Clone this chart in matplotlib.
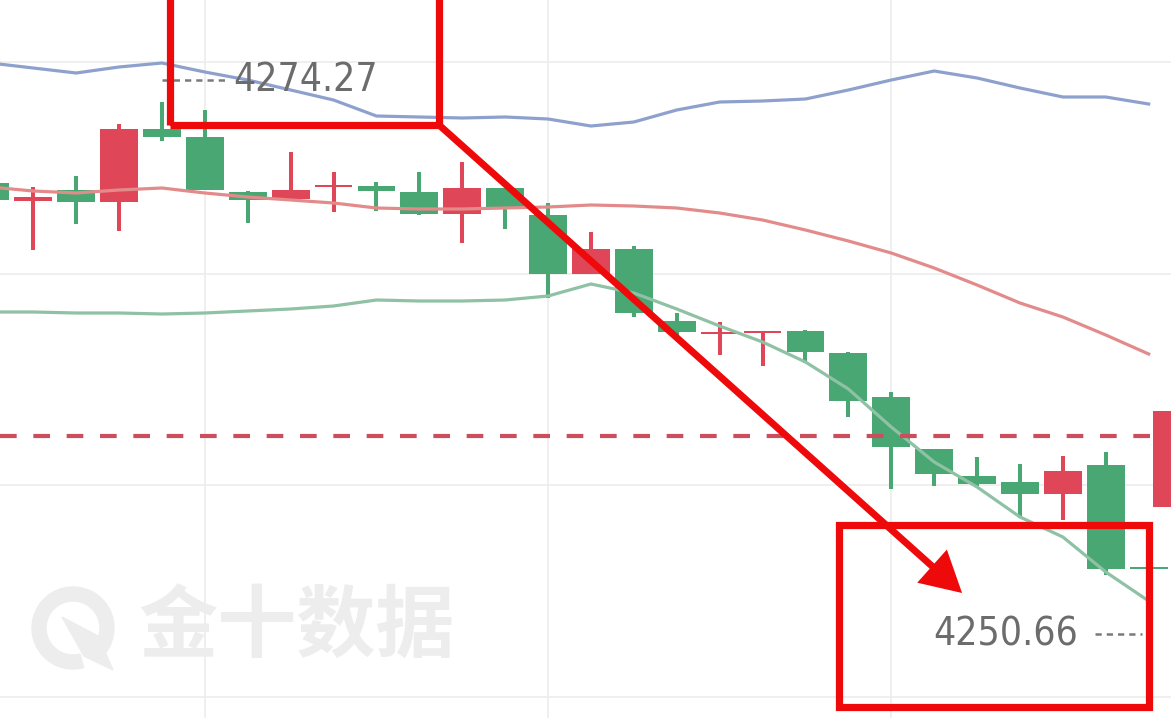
import matplotlib
matplotlib.use('Agg')
import matplotlib.pyplot as plt
from matplotlib.patches import Rectangle, FancyArrowPatch, Wedge, Polygon
from matplotlib.transforms import IdentityTransform
from matplotlib import font_manager

# ---------------- data ----------------
candle_x = list(range(28)) + [27.55]
opens = [4270.22, 4269.32, 4269.87, 4269.27, 4272.92, 4272.52, 4269.77, 4269.42, 4270.02, 4270.07,
         4269.77, 4268.67, 4269.97, 4268.62, 4265.67, 4266.92, 4263.32, 4262.65, 4262.72, 4262.82,
         4261.72, 4259.52, 4256.92, 4255.57, 4255.27, 4254.67, 4256.12, 4250.95, 4254.02]
highs = [4270.32, 4270.02, 4270.57, 4273.17, 4274.27, 4273.87, 4269.82, 4271.77, 4270.77, 4270.27,
         4270.77, 4271.27, 4269.97, 4269.22, 4267.77, 4267.07, 4263.72, 4263.27, 4262.82, 4262.87,
         4261.77, 4259.77, 4256.92, 4256.52, 4256.17, 4256.57, 4256.77, 4250.95, 4258.82]
lows = [4269.27, 4266.87, 4268.17, 4267.82, 4272.32, 4269.87, 4268.22, 4269.42, 4268.77, 4268.82,
        4268.62, 4267.22, 4267.92, 4264.47, 4265.67, 4263.52, 4262.32, 4261.62, 4261.07, 4261.22,
        4258.52, 4254.92, 4255.07, 4255.07, 4253.47, 4253.37, 4250.62, 4250.92, 4254.02]
closes = [4269.37, 4269.52, 4269.27, 4272.92, 4272.52, 4269.87, 4269.37, 4269.87, 4270.12, 4269.82,
          4268.67, 4269.97, 4268.97, 4265.67, 4266.92, 4263.72, 4262.77, 4262.67, 4262.82, 4261.77,
          4259.32, 4257.02, 4255.67, 4255.17, 4254.67, 4255.82, 4250.92, 4250.92, 4258.82]

band_x = list(range(28))
upper_band = [4276.22, 4275.97, 4275.72, 4276.02, 4276.22, 4275.77, 4275.37, 4274.87, 4274.37, 4273.57,
              4273.52, 4273.47, 4273.52, 4273.42, 4273.07, 4273.27, 4273.87, 4274.27, 4274.32, 4274.42,
              4274.87, 4275.37, 4275.82, 4275.47, 4274.97, 4274.52, 4274.52, 4274.17]
middle_band = [4270.02, 4269.82, 4269.72, 4269.87, 4269.97, 4269.72, 4269.52, 4269.37, 4269.22, 4268.97,
               4268.92, 4268.92, 4268.97, 4269.02, 4269.12, 4269.07, 4268.97, 4268.72, 4268.37, 4267.87,
               4267.32, 4266.72, 4265.97, 4265.12, 4264.22, 4263.52, 4262.62, 4261.67]
lower_band = [4263.77, 4263.77, 4263.72, 4263.72, 4263.67, 4263.72, 4263.82, 4263.92, 4264.07, 4264.37,
              4264.32, 4264.32, 4264.37, 4264.57, 4265.17, 4264.72, 4263.92, 4263.07, 4262.27, 4261.27,
              4259.92, 4258.02, 4256.27, 4255.02, 4253.52, 4252.52, 4250.77, 4249.32]

current_price = 4257.57
high_label = "4274.27"
low_label = "4250.66"
watermark = "金十数据"
grid_prices = [4276.27, 4265.67, 4255.12, 4244.52]
grid_x = [5, 13, 21]

# ---------------- style ----------------
RED = '#df4759'
GREEN = '#48a772'
BOX_RED = '#ee0a0a'
GRID = '#ececec'

fig = plt.figure(figsize=(11.71, 7.18), dpi=100)
ax = fig.add_axes([0, 0, 1, 1])
ax.set_xlim(0.226, 27.52)
ax.set_ylim(4243.47, 4279.37)
for s in ax.spines.values():
    s.set_visible(False)
ax.set_xticks(grid_x)
ax.set_yticks(grid_prices)
ax.tick_params(length=0, labelleft=False, labelbottom=False)
ax.grid(True, color=GRID, lw=1.2, zorder=0)
ax.set_axisbelow(True)

# watermark (behind)
wm_col = '#ededed'
fig.text(138 / 1171, 1 - 628 / 718, watermark, fontsize=57, fontweight='bold',
         color=wm_col, va='center', ha='left', family=['Noto Sans CJK SC', 'DejaVu Sans'], zorder=0.5)
ring = Wedge((73, 718 - 628), 41, -40, 285, width=14, transform=IdentityTransform(),
             color=wm_col, zorder=0.5)
fig.add_artist(ring)
tear = Polygon([(62, 718 - 617), (98, 718 - 636), (113, 718 - 670), (84, 718 - 656)],
               closed=True, transform=IdentityTransform(), color=wm_col, zorder=0.5)
fig.add_artist(tear)

# candles
n_main = 28
for i in range(len(candle_x)):
    o, h, l, c = opens[i], highs[i], lows[i], closes[i]
    col = RED if c >= o else GREEN
    z = 6 if i == n_main else 2
    ax.vlines(candle_x[i], l, h, color=col, lw=2.9, zorder=z)
    bot = min(o, c)
    ht = max(abs(c - o), 0.12)
    ax.bar(candle_x[i], ht, bottom=bot, width=0.88, color=col, zorder=z, linewidth=0)

# bands
ax.plot(band_x, upper_band, color='#8ea1cd', lw=2.3, zorder=3, solid_joinstyle='round')
ax.plot(band_x, middle_band, color='#e38b8b', lw=2.3, zorder=3, solid_joinstyle='round')
ax.plot(band_x, lower_band, color='#8fc1a4', lw=2.3, zorder=3, solid_joinstyle='round')

# current price dashed line
ax.axhline(current_price, color='#cc4d5c', lw=3, ls=(0, (4, 4)), zorder=4)

# price labels: pick a narrow font if one is installed
fonts = font_manager.fontManager.ttflist
names = {f.name for f in fonts}
lab_kw = dict(fontsize=27, family=['Roboto', 'DejaVu Sans'], fontweight='medium')
if 'Liberation Sans Narrow' in names:
    lab_kw = dict(fontsize=31, family=['Liberation Sans Narrow', 'DejaVu Sans'])
elif any(f.name == 'DejaVu Sans' and f.stretch == 'condensed' for f in fonts):
    lab_kw = dict(fontsize=28, family=['DejaVu Sans'], fontstretch='condensed')

ax.plot([4.0, 5.54], [4275.37, 4275.37], color='#7a7a7a', lw=1.8, ls=(0, (2.5, 2)), zorder=5)
ax.text(5.66, 4275.37, high_label, color='#6c6c6c', va='center', ha='left', zorder=5, **lab_kw)
ax.plot([25.75, 26.85], [4247.67, 4247.67], color='#7a7a7a', lw=1.8, ls=(0, (2.5, 2)), zorder=5)
ax.text(25.35, 4247.67, low_label, color='#6c6c6c', va='center', ha='right', zorder=5, **lab_kw)

# annotation boxes and arrow
ax.add_patch(Rectangle((4.19, 4273.12), 10.46 - 4.19, 10, fill=False, ec=BOX_RED, lw=5.2,
                       zorder=8, joinstyle='miter'))
ax.add_patch(Rectangle((19.78, 4244.02), 27.01 - 19.78, 4253.12 - 4244.02, fill=False,
                       ec=BOX_RED, lw=5.2, zorder=8, joinstyle='miter'))
arrow = FancyArrowPatch((10.46, 4273.12), (22.65, 4249.72),
                        arrowstyle='simple,head_length=29,head_width=32,tail_width=5',
                        mutation_scale=1, shrinkA=0, shrinkB=0, fc=BOX_RED, ec=BOX_RED, lw=0,
                        zorder=9)
ax.add_patch(arrow)

fig.savefig('out.png', dpi=100, facecolor='white')
